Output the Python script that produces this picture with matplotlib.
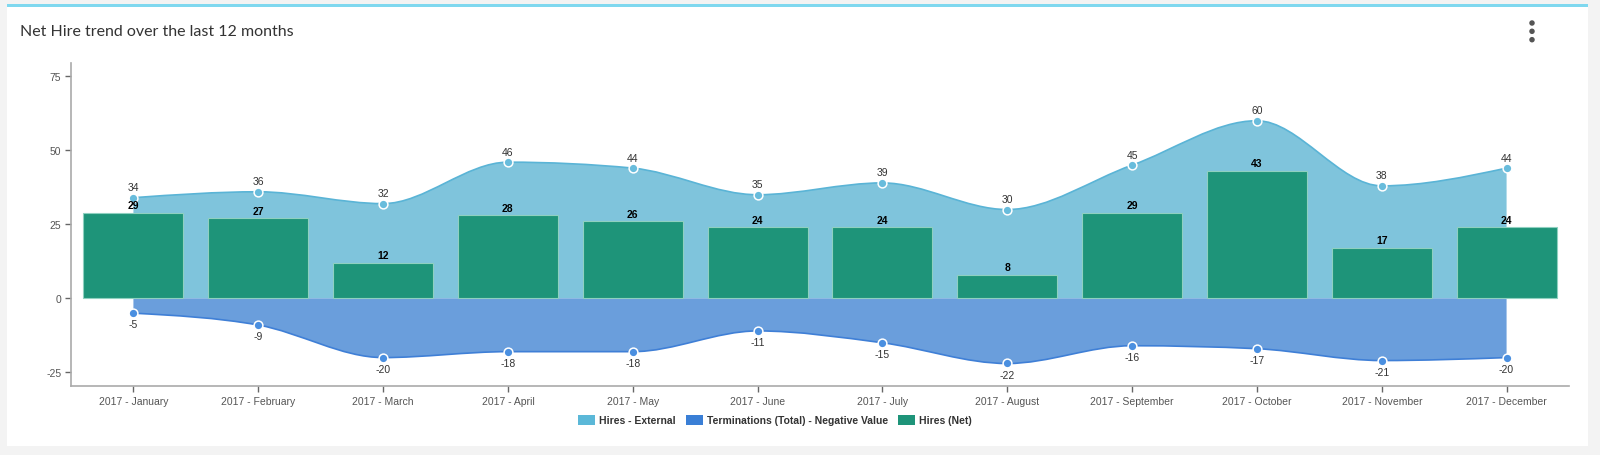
import numpy as np
import matplotlib
matplotlib.use("Agg")
import matplotlib.pyplot as plt
from matplotlib.path import Path
from matplotlib.patches import PathPatch, Rectangle, Patch, Ellipse

months = ["2017 - January", "2017 - February", "2017 - March", "2017 - April",
          "2017 - May", "2017 - June", "2017 - July", "2017 - August",
          "2017 - September", "2017 - October", "2017 - November", "2017 - December"]
hires_external = [34, 36, 32, 46, 44, 35, 39, 30, 45, 60, 38, 44]
terminations = [-5, -9, -20, -18, -18, -11, -15, -22, -16, -17, -21, -20]
hires_net = [29, 27, 12, 28, 26, 24, 24, 8, 29, 43, 17, 24]
yticks = [-25, 0, 25, 50, 75]

C_EXT_FILL = "#7fc4dc"
C_EXT_LINE = "#5ab4d6"
C_EXT_DOT = "#68bcdc"
C_TERM_FILL = "#6a9edc"
C_TERM_LINE = "#3f7fd6"
C_TERM_DOT = "#4a8fe0"
C_NET = "#1e9479"

W, H = 1600, 456
fig = plt.figure(figsize=(W / 100, H / 100), dpi=100)
fig.patch.set_facecolor("#f3f3f3")

# card
card = Rectangle((7 / W, 1 - 447 / H), (1588 - 7) / W, (447 - 5) / H,
                 transform=fig.transFigure, facecolor="white", edgecolor="none", zorder=-10)
fig.patches.append(card)
bar_top = Rectangle((7 / W, 1 - 8 / H), (1588 - 7) / W, 3.5 / H,
                    transform=fig.transFigure, facecolor="#7fd8ef", edgecolor="none", zorder=-9)
fig.patches.append(bar_top)
fig.text(20 / W, 1 - 32 / H, "Net Hire trend over the last 12 months", fontsize=11.5,
         family=["Lato", "DejaVu Sans"], color="#333333", va="center", ha="left")
for dy in (24, 32.3, 40.7):
    fig.patches.append(Ellipse((1532 / W, 1 - dy / H), 5.5 / W, 5.5 / H,
                       transform=fig.transFigure, facecolor="#555555", edgecolor="none", zorder=-8))

ax = fig.add_axes([71 / W, 1 - 387 / H, (1569 - 71) / W, (387 - 64) / H])
ax.set_zorder(5)
ax.set_facecolor("none")
ax.set_xlim(-0.5, 11.5)
ax.set_ylim(-29.6, 79.5)


def monotone_path(xs, ys, baseline=0.0):
    xs = np.asarray(xs, float)
    ys = np.asarray(ys, float)
    n = len(xs)
    h = np.diff(xs)
    s = np.diff(ys) / h
    t = np.zeros(n)
    for i in range(1, n - 1):
        if s[i - 1] * s[i] <= 0:
            t[i] = 0
        else:
            p = (s[i - 1] * h[i] + s[i] * h[i - 1]) / (h[i - 1] + h[i])
            t[i] = (np.sign(s[i - 1]) + np.sign(s[i])) * min(abs(s[i - 1]), abs(s[i]), 0.5 * abs(p))
    t[0] = (3 * s[0] - t[1]) / 2 if n > 2 else s[0]
    t[-1] = (3 * s[-1] - t[-2]) / 2 if n > 2 else s[-1]
    verts = [(xs[0], ys[0])]
    codes = [Path.MOVETO]
    for i in range(n - 1):
        dx = h[i] / 3
        verts += [(xs[i] + dx, ys[i] + dx * t[i]), (xs[i + 1] - dx, ys[i + 1] - dx * t[i + 1]),
                  (xs[i + 1], ys[i + 1])]
        codes += [Path.CURVE4] * 3
    line = Path(verts, codes)
    fverts = verts + [(xs[-1], baseline), (xs[0], baseline), (xs[0], ys[0])]
    fcodes = codes + [Path.LINETO, Path.LINETO, Path.CLOSEPOLY]
    return line, Path(fverts, fcodes)


x = np.arange(len(months))
for vals, fc, lc in ((hires_external, C_EXT_FILL, C_EXT_LINE), (terminations, C_TERM_FILL, C_TERM_LINE)):
    line, fill = monotone_path(x, vals)
    ax.add_patch(PathPatch(fill, facecolor=fc, edgecolor="none", zorder=1))
    ax.add_patch(PathPatch(line, facecolor="none", edgecolor=lc, lw=1.2, zorder=2))

ax.bar(x, hires_net, width=0.8, color=C_NET, edgecolor="#8fd0c0", linewidth=0.8, zorder=3)

ax.scatter(x, hires_external, s=40, color=C_EXT_DOT, edgecolor="white", linewidth=1.1, zorder=5)
ax.scatter(x, terminations, s=40, color=C_TERM_DOT, edgecolor="white", linewidth=1.1, zorder=5)

lab_font = ["Liberation Sans", "DejaVu Sans"]
for xi, v in zip(x, hires_external):
    ax.annotate(str(v), (xi, v), xytext=(0, 4), textcoords="offset points", ha="center",
                va="bottom", fontsize=7.5, color="#333333", family=lab_font, zorder=6)
for xi, v in zip(x, terminations):
    ax.annotate(str(v), (xi, v), xytext=(0, -4.5), textcoords="offset points", ha="center",
                va="top", fontsize=7.5, color="#333333", family=lab_font, zorder=6)
for xi, v in zip(x, hires_net):
    ax.annotate(str(v), (xi, v), xytext=(0, 2), textcoords="offset points", ha="center",
                va="bottom", fontsize=7.5, color="black", family=lab_font, fontweight="bold", zorder=6)

ax.set_xticks(x)
ax.set_xticklabels(months, family=lab_font, fontsize=7.5, color="#555555")
ax.set_yticks(yticks)
ax.set_yticklabels([str(v) for v in yticks], family=lab_font, fontsize=7.5, color="#555555")
for sp in ("top", "right"):
    ax.spines[sp].set_visible(False)
for sp in ("left", "bottom"):
    ax.spines[sp].set_color("#aaaaaa")
    ax.spines[sp].set_linewidth(1.2)
ax.tick_params(axis="both", colors="#666666", length=4, width=1, pad=3)
for lbl in ax.get_xticklabels() + ax.get_yticklabels():
    lbl.set_color("#555555")

handles = [Patch(facecolor="#5bb8d8", label="Hires - External"),
           Patch(facecolor="#3a7fd6", label="Terminations (Total) - Negative Value"),
           Patch(facecolor=C_NET, label="Hires (Net)")]
leg = fig.legend(handles=handles, loc="center", bbox_to_anchor=(775 / W, 1 - 421 / H), ncol=3,
                 frameon=False, prop={"family": lab_font, "size": 7.5, "weight": "bold"},
                 handlelength=1.6, handleheight=1.1, columnspacing=1.0, handletextpad=0.4)
for t in leg.get_texts():
    t.set_color("#333333")

fig.savefig("out.png", dpi=100, facecolor=fig.get_facecolor())
